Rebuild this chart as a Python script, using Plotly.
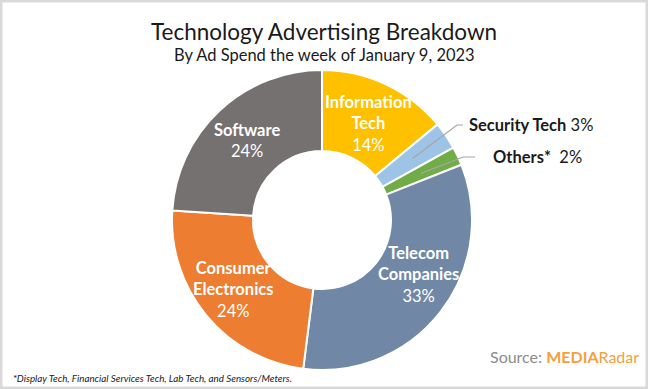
import math
import plotly.graph_objects as go

# ---- data ----
categories = ["Information Tech", "Security Tech", "Others*", "Telecom Companies",
              "Consumer Electronics", "Software"]
label_lines = ["Information<br>Tech", "Security Tech", "Others*", "Telecom<br>Companies",
               "Consumer<br>Electronics", "Software"]
shares = [14, 3, 2, 33, 24, 24]
colors = ["#FFC000", "#9DC3E6", "#70AD47", "#7088A6", "#ED7D31", "#767171"]
inside = [True, False, False, True, True, True]

W, H = 648, 389
L, R, T, B = 172, 176, 70, 19
PW = W - L - R
PH = H - T - B


def xp(px):
    return (px - L) / PW


def yp(py):
    return (H - B - py) / PH


fig = go.Figure(go.Pie(
    labels=categories, values=shares, sort=False, direction="clockwise",
    hole=0.46, marker=dict(colors=colors, line=dict(color="white", width=2)),
    textinfo="none", hoverinfo="label+percent", showlegend=False,
))

FONT = "Lato, Carlito, Calibri, sans-serif"
total = sum(shares)
cum = 0
anns = []
shapes = []
# label placement tweaks (pixels)
nudge = {"Telecom Companies": (10, -13), "Consumer Electronics": (-4, 0),
         "Information Tech": (0, 3)}
outside_pos = {"Security Tech": (467, 125), "Others*": (491, 157)}
leader_end = {"Security Tech": (457, 463), "Others*": (463, 475)}
for cat, lab, v, ins in zip(categories, label_lines, shares, inside):
    frac = (cum + v / 2) / total
    cum += v
    th = 2 * math.pi * frac
    f = 0.73
    cx = 0.5 + 0.5 * f * math.sin(th)
    cy = 0.5 + 0.5 * f * math.cos(th)
    if ins:
        dx, dy = nudge.get(cat, (0, 0))
        anns.append(dict(x=cx + dx / PW, y=cy - dy / PH, xref="paper", yref="paper",
                         showarrow=False, xanchor="center", yanchor="middle",
                         text=f"<b>{lab}</b><br>{v}%", align="center",
                         font=dict(family=FONT, size=16.5, color="white")))
    else:
        tx, ty = outside_pos[cat]
        e1, e2 = leader_end[cat]
        shapes.append(dict(type="path", xref="paper", yref="paper",
                           path=f"M {cx} {cy} L {xp(e1)} {yp(ty)} L {xp(e2)} {yp(ty)}",
                           line=dict(color="#A6A6A6", width=1.2)))
        sep = " " if cat == "Security Tech" else "  "
        anns.append(dict(x=xp(tx), y=yp(ty), xref="paper", yref="paper", showarrow=False,
                         xanchor="left", yanchor="middle", text=f"<b>{lab}</b>{sep}{v}%",
                         font=dict(family=FONT, size=16.5, color="#1a1a1a")))

# titles
anns.append(dict(x=xp(324), y=yp(31), xref="paper", yref="paper", showarrow=False,
                 xanchor="center", yanchor="middle",
                 text="Technology Advertising Breakdown",
                 font=dict(family=FONT, size=22.5, color="#1a1a1a")))
anns.append(dict(x=xp(324), y=yp(55), xref="paper", yref="paper", showarrow=False,
                 xanchor="center", yanchor="middle",
                 text="By Ad Spend the week of January 9, 2023",
                 font=dict(family=FONT, size=16.5, color="#1a1a1a")))
# footnote
anns.append(dict(x=xp(11), y=yp(378), xref="paper", yref="paper", showarrow=False,
                 xanchor="left", yanchor="middle",
                 text="<i>*Display Tech, Financial Services Tech, Lab Tech, and Sensors/Meters.</i>",
                 font=dict(family=FONT, size=9.8, color="#1a1a1a")))
# source
anns.append(dict(x=xp(641), y=yp(356), xref="paper", yref="paper", showarrow=False,
                 xanchor="right", yanchor="middle",
                 text="<span style='color:#8C8C8C'>Source: </span><b>MEDIA</b>Radar",
                 font=dict(family=FONT, size=16, color="#F5A03C")))

# frame
shapes.append(dict(type="rect", xref="paper", yref="paper",
                   x0=xp(0), x1=xp(W), y0=yp(H), y1=yp(0),
                   line=dict(color="#D9D9D9", width=5), fillcolor="rgba(0,0,0,0)"))

fig.update_layout(
    width=W, height=H, autosize=False,
    margin=dict(l=L, r=R, t=T, b=B),
    paper_bgcolor="white", plot_bgcolor="white",
    annotations=anns, shapes=shapes,
)
fig.write_html("out.html", config={"displayModeBar": False},
               post_script="document.body.style.margin='0';document.body.style.overflow='hidden';")
